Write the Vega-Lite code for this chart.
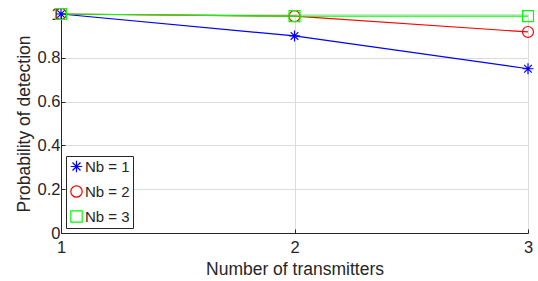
{
  "$schema": "https://vega.github.io/schema/vega-lite/v6.json",
  "width": 467,
  "height": 219,
  "autosize": {"type": "none"},
  "padding": {"left": 61, "top": 14, "right": 10, "bottom": 48},
  "background": "white",
  "config": {
    "view": {"stroke": null},
    "font": "Liberation Sans",
    "axis": {
      "labelFont": "Liberation Sans",
      "titleFont": "Liberation Sans",
      "labelFontSize": 16.5,
      "titleFontSize": 17.5,
      "titleFontWeight": "normal",
      "labelColor": "#262626",
      "titleColor": "#262626",
      "domainColor": "#262626",
      "tickColor": "#262626",
      "gridColor": "#dcdcdc",
      "tickSize": -4,
      "labelOverlap": false
    },
    "legend": {
      "title": null,
      "orient": "bottom-left",
      "offset": 5,
      "strokeColor": "#262626",
      "fillColor": "white",
      "padding": 3,
      "labelFont": "Liberation Sans",
      "labelFontSize": 15,
      "labelColor": "#262626",
      "rowPadding": 8,
      "symbolSize": 130,
      "symbolStrokeWidth": 1.2,
      "symbolFillColor": "transparent",
      "labelOffset": 1
    }
  },
  "data": {
    "values": [
      {"tx": 1, "pd": 1.0, "series": "Nb = 1"},
      {"tx": 2, "pd": 0.9, "series": "Nb = 1"},
      {"tx": 3, "pd": 0.75, "series": "Nb = 1"},
      {"tx": 1, "pd": 1.0, "series": "Nb = 2"},
      {"tx": 2, "pd": 0.99, "series": "Nb = 2"},
      {"tx": 3, "pd": 0.918, "series": "Nb = 2"},
      {"tx": 1, "pd": 1.0, "series": "Nb = 3"},
      {"tx": 2, "pd": 0.99, "series": "Nb = 3"},
      {"tx": 3, "pd": 0.99, "series": "Nb = 3"}
    ]
  },
  "encoding": {
    "x": {
      "field": "tx", "type": "quantitative",
      "scale": {"domain": [1, 3], "nice": false, "zero": false},
      "axis": {"tickCount": 3, "format": "d", "title": "Number of transmitters", "labelPadding": 10, "titlePadding": 5, "labelFlush": false}
    },
    "y": {
      "field": "pd", "type": "quantitative",
      "scale": {"domain": [0, 1], "nice": false},
      "axis": {"values": [0, 0.2, 0.4, 0.6, 0.8, 1], "format": "~g", "title": "Probability of detection", "labelPadding": 5, "titlePadding": 4, "labelFlush": false}
    },
    "color": {
      "field": "series", "type": "nominal",
      "scale": {"domain": ["Nb = 1", "Nb = 2", "Nb = 3"], "range": ["#0000ff", "#ff0000", "#00ff00"]}
    }
  },
  "layer": [
    {
      "mark": {"type": "line", "strokeWidth": 1.2, "clip": false}
    },
    {
      "mark": {"type": "point", "filled": false, "strokeWidth": 1.2, "opacity": 1, "clip": false},
      "encoding": {
        "shape": {
          "field": "series", "type": "nominal",
          "scale": {"domain": ["Nb = 1", "Nb = 2", "Nb = 3"], "range": ["M-1,0L1,0M0,-1L0,1M-0.7,-0.7L0.7,0.7M-0.7,0.7L0.7,-0.7", "circle", "square"]}
        },
        "size": {"value": 120}
      }
    }
  ]
}
